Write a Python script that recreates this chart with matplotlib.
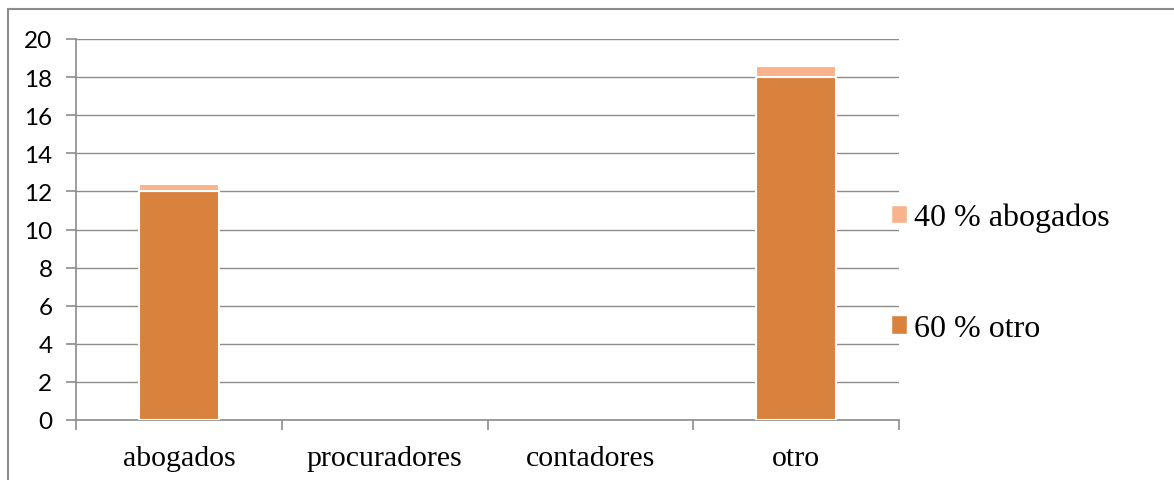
import numpy as np
import matplotlib.pyplot as plt
from matplotlib.lines import Line2D
from matplotlib.patches import Patch

categories = ["abogados", "procuradores", "contadores", "otro"]
otro_vals = [12, 0, 0, 18]
abog_vals = [0.4, 0, 0, 0.6]
labels = ["40 % abogados", "60 % otro"]

c_dark = "#D9823D"
c_light = "#F9B38C"
gray = "#8C8C8C"

fig = plt.figure(figsize=(11.74, 4.81), dpi=100)
ax = fig.add_axes([76 / 1174, 1 - 421 / 481, (899 - 76) / 1174, (421 - 40) / 481])

x = np.arange(len(categories))
lw_dark = [1.5 if v > 0 else 0 for v in otro_vals]
lw_light = [1.5 if v > 0 else 0 for v in abog_vals]
ax.bar(x, otro_vals, width=0.39, color=c_dark, edgecolor="white", linewidth=lw_dark, zorder=3)
ax.bar(x, abog_vals, width=0.39, bottom=otro_vals, color=c_light, edgecolor="white",
       linewidth=lw_light, zorder=3)

ax.set_xlim(-0.5, 3.5)
ax.set_ylim(0, 20)
ax.set_yticks(range(0, 21, 2))
ax.yaxis.grid(True, color=gray, linewidth=1, zorder=0)
ax.set_axisbelow(True)

ax.set_xticks(x)
ax.set_xticklabels(categories, fontfamily="Liberation Serif", fontsize=21.5)
ax.set_xticks(np.arange(-0.5, 4, 1), minor=True)
ax.tick_params(axis="x", which="major", length=0, pad=18)
ax.tick_params(axis="x", which="minor", length=7, color=gray, width=1.2)
ax.tick_params(axis="y", length=7, color=gray, width=1.2, pad=10)
for lab in ax.get_yticklabels():
    lab.set_fontfamily("Lato")
    lab.set_fontsize(17.5)

for s in ["top", "right"]:
    ax.spines[s].set_visible(False)
for s in ["left", "bottom"]:
    ax.spines[s].set_color(gray)
    ax.spines[s].set_linewidth(1.2)

handles = [Patch(facecolor=c_light, edgecolor="white"), Patch(facecolor=c_dark, edgecolor="white")]
ax.legend(handles, labels, loc="center left", bbox_to_anchor=(0.975, 0.386), frameon=False,
          prop={"family": "Liberation Serif", "size": 23}, handlelength=0.5, handleheight=0.5,
          handletextpad=0.2, labelspacing=2.55, borderaxespad=0)

# outer chart border (top and left visible)
fig.add_artist(Line2D([8 / 1174, 1], [1 - 10 / 481, 1 - 10 / 481], color=gray, linewidth=1.5))
fig.add_artist(Line2D([8 / 1174, 8 / 1174], [0, 1 - 10 / 481], color=gray, linewidth=1.5))

fig.savefig("out.png", dpi=100, facecolor="white")
